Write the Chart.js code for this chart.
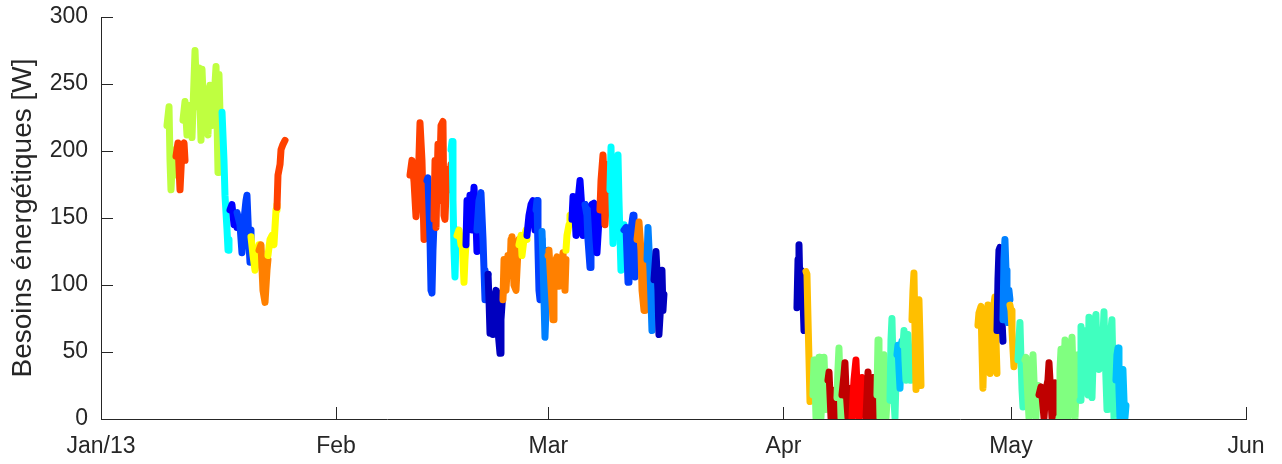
<!DOCTYPE html>
<html>
<head>
<meta charset="utf-8">
<script src="https://cdn.jsdelivr.net/npm/chart.js@4"></script>
<style>
  html, body { margin: 0; padding: 0; background: #fff; }
  #wrap { width: 1282px; height: 464px; }
</style>
</head>
<body>
<div id="wrap"><canvas id="chart" width="1282" height="464"></canvas></div>
<script>
// axis ticks (x in days since 1 Jan 2013)
const tickDays = [0, 31, 59, 90, 120, 151];
const tickLabels = ['Jan/13', 'Feb', 'Mar', 'Apr', 'May', 'Jun'];
const yTicks = [0, 50, 100, 150, 200, 250, 300];

// jet-like colours of the segments
const YG = '#bfff40', RO = '#ff4000', CY = '#00ffff', BL = '#0000ff', MB = '#0040ff',
      YE = '#ffff00', OR = '#ff8000', NV = '#0000bf', LB = '#0080ff', OY = '#ffbf00',
      LG = '#80ff80', DR = '#bf0000', RE = '#ff0000', AQ = '#40ffbf', SB = '#00bfff';

const segColors = [
  YG, RO, YG, CY, BL, MB, YE, OR, YE, RO,
  RO, MB, RO, CY, YE, BL, MB, NV, OR, YE, BL, MB, LB, OR, YE, BL, MB, BL, RO, CY, MB, OR, LB, NV,
  NV, OY, LG, DR, LG, DR, RE, DR, LG, AQ, SB, AQ, OY,
  OY, NV, LB, OY, AQ, LG, DR, LG, AQ, SB
];

const segDays = [
  // January
  [8.70, 8.97, 9.10, 9.23, 9.50, 9.76],
  [9.89, 10.15, 10.42, 10.68, 10.95, 11.08],
  [10.81, 11.08, 11.34, 11.60, 12.00, 12.40, 12.66, 12.92, 13.19, 13.32, 13.59, 13.85, 14.11, 14.37, 14.64, 14.90, 15.17, 15.43, 15.56, 15.82],
  [15.96, 16.22, 16.35, 16.62, 16.75, 16.88],
  [17.01, 17.27, 17.54, 17.80, 17.94],
  [17.94, 18.33, 18.59, 18.86, 19.12, 19.25, 19.52, 19.65, 19.78],
  [19.78, 20.05, 20.31, 20.57, 20.84],
  [20.84, 21.10, 21.36, 21.63, 21.89, 22.02],
  [22.02, 22.29, 22.55, 22.81, 23.08, 23.21],
  [23.21, 23.34, 23.61, 23.74, 24.00, 24.27],
  // February - March
  [40.75, 41.01, 41.28, 41.54, 41.80, 42.07, 42.33, 42.60, 42.86, 42.99],
  [42.99, 43.12, 43.39, 43.52, 43.65, 43.78, 43.91],
  [43.91, 44.05, 44.18, 44.44, 44.57, 44.84, 45.10, 45.23, 45.36, 45.63, 45.89, 46.16],
  [46.16, 46.29, 46.42, 46.55, 46.68, 46.82, 46.95],
  [46.95, 47.21, 47.48, 47.61, 47.87, 48.00, 48.13],
  [48.13, 48.27, 48.40, 48.66, 48.93, 49.19, 49.45, 49.58],
  [49.58, 49.85, 50.11, 50.38, 50.51, 50.64, 50.77, 51.04],
  [51.04, 51.17, 51.30, 51.43, 51.69, 51.83, 52.09, 52.22, 52.35, 52.62, 52.75, 53.01],
  [53.01, 53.15, 53.41, 53.67, 53.94, 54.07, 54.20, 54.46, 54.73, 54.99, 55.12],
  [55.12, 55.39, 55.52, 55.78, 56.05, 56.18],
  [56.18, 56.44, 56.71, 56.97, 57.23, 57.37],
  [57.37, 57.50, 57.63, 57.76, 57.89, 58.03, 58.16],
  [58.16, 58.29, 58.42, 58.55, 58.68, 58.82, 58.95],
  [58.95, 59.08, 59.34, 59.61, 59.74, 60.00, 60.13, 60.40, 60.66, 60.93, 61.19, 61.32],
  [61.32, 61.45, 61.72, 61.85, 62.11],
  [62.11, 62.25, 62.51, 62.64, 62.91, 63.17, 63.43, 63.56, 63.83],
  [63.83, 64.09, 64.22, 64.49, 64.62, 64.75],
  [64.75, 65.01, 65.28, 65.41, 65.67, 65.80],
  [65.80, 65.94, 66.20, 66.33, 66.46, 66.73, 66.86, 67.12],
  [67.12, 67.26, 67.39, 67.52, 67.65, 67.91, 68.18, 68.31, 68.57, 68.71, 68.97],
  [68.97, 69.24, 69.50, 69.63, 69.89, 70.16, 70.29, 70.42, 70.69],
  [70.69, 70.95, 71.21, 71.35, 71.61, 71.74, 72.01],
  [72.01, 72.14, 72.40, 72.66, 72.80, 72.93],
  [72.93, 73.19, 73.45, 73.58, 73.85, 73.98, 74.11, 74.24],
  // April
  [91.78, 91.92, 92.05, 92.18, 92.31, 92.58, 92.71, 92.84],
  [92.97, 93.10, 93.24, 93.37, 93.50, 93.63, 93.76],
  [93.89, 94.03, 94.16, 94.29, 94.42, 94.56, 94.69, 94.82, 94.95, 95.22, 95.35, 95.61, 95.74],
  [95.87, 96.01, 96.14, 96.27, 96.40, 96.66, 96.80, 96.93, 97.06],
  [97.06, 97.19, 97.32, 97.46, 97.59, 97.72],
  [97.72, 97.98, 98.11, 98.25, 98.51, 98.64, 98.91, 99.04],
  [99.04, 99.30, 99.56, 99.70, 99.96, 100.09, 100.36, 100.62, 100.89],
  [100.89, 101.15, 101.28, 101.54, 101.81, 101.94, 102.20, 102.33],
  [102.33, 102.47, 102.60, 102.73, 102.99, 103.26, 103.39, 103.52, 103.79, 103.92, 104.05],
  [104.05, 104.18, 104.31, 104.44, 104.58, 104.71, 104.84, 104.97],
  [104.97, 105.10, 105.24, 105.37, 105.50, 105.63],
  [105.76, 105.90, 106.03, 106.16, 106.29, 106.42, 106.56, 106.69, 106.82],
  [106.95, 107.08, 107.21, 107.35, 107.48, 107.61, 107.74, 107.87, 108.01, 108.14],
  // May
  [115.65, 115.78, 116.05, 116.18, 116.31, 116.44, 116.71, 116.97, 117.10, 117.24, 117.50, 117.63, 117.89, 118.03, 118.16],
  [118.16, 118.29, 118.42, 118.55, 118.69, 118.82, 118.95],
  [118.95, 119.08, 119.21, 119.35, 119.48, 119.61, 119.74, 119.87],
  [119.87, 120.01, 120.14, 120.27, 120.40, 120.53, 120.67, 120.80, 120.93],
  [120.93, 121.06, 121.19, 121.33, 121.46, 121.59, 121.72, 121.85],
  [121.85, 121.98, 122.12, 122.38, 122.51, 122.77, 122.91, 123.04, 123.30, 123.43, 123.57],
  [123.70, 123.96, 124.09, 124.36, 124.62, 124.88, 125.02, 125.15, 125.41, 125.68, 125.81, 126.07, 126.34],
  [126.34, 126.47, 126.60, 126.73, 126.86, 127.13, 127.26, 127.52, 127.79, 128.05, 128.18, 128.45, 128.71, 128.84, 129.11],
  [129.11, 129.24, 129.37, 129.50, 129.76, 129.90, 130.03, 130.16, 130.29, 130.42, 130.69, 130.95, 131.08, 131.21, 131.35, 131.61, 131.74, 132.01, 132.27, 132.40, 132.67, 132.80, 133.06, 133.32, 133.46, 133.59, 133.85],
  [133.85, 133.98, 134.12, 134.25, 134.38, 134.64, 134.77, 134.91, 135.04, 135.17]
];

const segValues = [
  // January
  [219, 233, 193, 171, 201, 182],
  [196, 206, 171, 201, 206, 193],
  [223, 237, 212, 234, 210, 275, 233, 262, 208, 261, 223, 246, 212, 249, 219, 238, 263, 184, 257, 201],
  [229, 193, 167, 141, 126, 134],
  [156, 160, 145, 152, 143],
  [154, 145, 124, 149, 163, 167, 130, 117, 141],
  [136, 122, 111, 120, 130],
  [126, 130, 96, 87, 111, 119],
  [122, 134, 137, 130, 156, 160],
  [158, 182, 190, 201, 205, 208],
  // February - March
  [182, 193, 177, 151, 171, 221, 193, 134, 160, 171],
  [178, 180, 134, 96, 94, 126, 145],
  [149, 193, 143, 205, 163, 219, 222, 152, 149, 186, 171, 190],
  [201, 207, 163, 126, 106, 134, 141],
  [137, 141, 130, 134, 102, 119, 130],
  [130, 163, 143, 167, 141, 173, 149, 125],
  [141, 163, 169, 134, 111, 89, 104, 108],
  [108, 89, 64, 89, 63, 89, 96, 78, 66, 49, 74, 96],
  [89, 119, 96, 122, 111, 134, 136, 100, 96, 126, 134],
  [130, 137, 122, 134, 141, 134],
  [137, 152, 160, 163, 141, 156],
  [156, 163, 126, 96, 89, 119, 134],
  [140, 119, 89, 61, 81, 111, 126],
  [122, 126, 100, 74, 96, 119, 121, 99, 111, 124, 96, 119],
  [126, 137, 145, 152, 149],
  [149, 166, 152, 137, 163, 178, 156, 137, 160],
  [160, 152, 134, 113, 141, 160],
  [160, 161, 134, 124, 149, 156],
  [156, 178, 197, 182, 145, 171, 190, 163],
  [171, 203, 163, 131, 163, 182, 197, 163, 111, 126, 145],
  [141, 143, 102, 119, 141, 152, 126, 106, 134],
  [134, 147, 126, 96, 81, 111, 119],
  [119, 143, 111, 66, 89, 104],
  [104, 125, 96, 63, 89, 111, 81, 93],
  // April
  [83, 119, 130, 96, 111, 89, 66, 81],
  [110, 108, 74, 44, 13, 25, 18],
  [18, 44, 29, 1, 14, 33, 46, 22, 1, 29, 46, 7, 18],
  [29, 35, 18, 1, 14, 18, 1, 22, 16],
  [16, 37, 53, 29, 1, 18],
  [18, 33, 42, 22, 1, 14, 23, 1],
  [1, 29, 44, 25, 1, 14, 31, 18, 1],
  [1, 35, 18, 1, 31, 25, 1, 18],
  [18, 59, 37, 1, 25, 48, 29, 1, 25, 35, 14],
  [14, 59, 75, 44, 14, 1, 29, 52],
  [48, 55, 37, 23, 44, 58],
  [55, 66, 44, 29, 52, 63, 48, 29, 44],
  [74, 96, 109, 66, 22, 37, 74, 89, 59, 25],
  // May
  [70, 79, 84, 52, 23, 52, 66, 85, 59, 34, 59, 81, 91, 59, 34],
  [66, 104, 126, 128, 96, 74, 58],
  [74, 119, 134, 111, 89, 72, 96, 89],
  [85, 81, 66, 52, 39, 48, 55, 52, 44],
  [44, 59, 72, 44, 22, 9, 25, 44],
  [44, 46, 29, 1, 22, 37, 48, 29, 1, 18, 25],
  [18, 24, 18, 1, 22, 29, 42, 29, 1, 18, 27, 14, 1],
  [1, 37, 52, 25, 1, 59, 37, 1, 44, 61, 37, 1, 37, 48, 14],
  [14, 69, 44, 27, 59, 66, 37, 18, 76, 52, 16, 66, 74, 78, 52, 37, 66, 44, 80, 52, 7, 44, 59, 74, 37, 1, 29],
  [29, 48, 53, 22, 1, 29, 37, 14, 1, 10]
];

const axisColor = '#262626';
const fontFamily = "'Liberation Sans', Arial, Helvetica, sans-serif";

const datasets = segColors.map((color, i) => ({
  data: segDays[i].map((d, j) => ({ x: d, y: segValues[i][j] })),
  borderColor: color,
  backgroundColor: color,
  order: -i
}));

// small inward tick marks like the original axes
const innerTicks = {
  id: 'innerTicks',
  beforeDatasetsDraw(chart) {
    const { ctx, chartArea, scales: { x, y } } = chart;
    ctx.save();
    ctx.strokeStyle = axisColor;
    ctx.lineWidth = 1;
    ctx.beginPath();
    tickDays.forEach(d => {
      const px = Math.round(x.getPixelForValue(d)) + 0.5;
      ctx.moveTo(px, chartArea.bottom);
      ctx.lineTo(px, chartArea.bottom - 12);
    });
    yTicks.forEach(v => {
      const py = Math.round(y.getPixelForValue(v)) + 0.5;
      ctx.moveTo(chartArea.left, py);
      ctx.lineTo(chartArea.left + 12, py);
    });
    ctx.stroke();
    ctx.restore();
  }
};

new Chart(document.getElementById('chart'), {
  type: 'line',
  data: { datasets },
  options: {
    responsive: false,
    animation: false,
    layout: { padding: { left: 0, right: 36, top: 17, bottom: 0 } },
    plugins: { legend: { display: false }, tooltip: { enabled: false } },
    elements: {
      point: { radius: 0, hoverRadius: 0 },
      line: { borderWidth: 7, borderCapStyle: 'round', borderJoinStyle: 'round', tension: 0, fill: false }
    },
    scales: {
      x: {
        type: 'linear',
        min: 0,
        max: 151,
        grid: { display: false, drawTicks: false },
        border: { display: true, color: axisColor, width: 1 },
        ticks: {
          autoSkip: false,
          maxRotation: 0,
          padding: 14,
          color: axisColor,
          font: { family: fontFamily, size: 23 },
          callback: v => tickLabels[tickDays.indexOf(v)]
        },
        afterBuildTicks: s => { s.ticks = tickDays.map(v => ({ value: v })); },
        afterFit: s => { s.height = 45; s.paddingLeft = 0; s.paddingRight = 0; }
      },
      y: {
        min: 0,
        max: 300,
        grid: { display: false, drawTicks: false },
        border: { display: true, color: axisColor, width: 1 },
        ticks: {
          stepSize: 50,
          padding: 13,
          color: axisColor,
          font: { family: fontFamily, size: 23 }
        },
        title: {
          display: true,
          text: 'Besoins énergétiques [W]',
          color: axisColor,
          font: { family: fontFamily, size: 28 },
          padding: { top: 6, bottom: 0 }
        },
        afterFit: s => { s.width = 101; s.paddingTop = 0; s.paddingBottom = 0; }
      }
    }
  },
  plugins: [innerTicks]
});
</script>
</body>
</html>
